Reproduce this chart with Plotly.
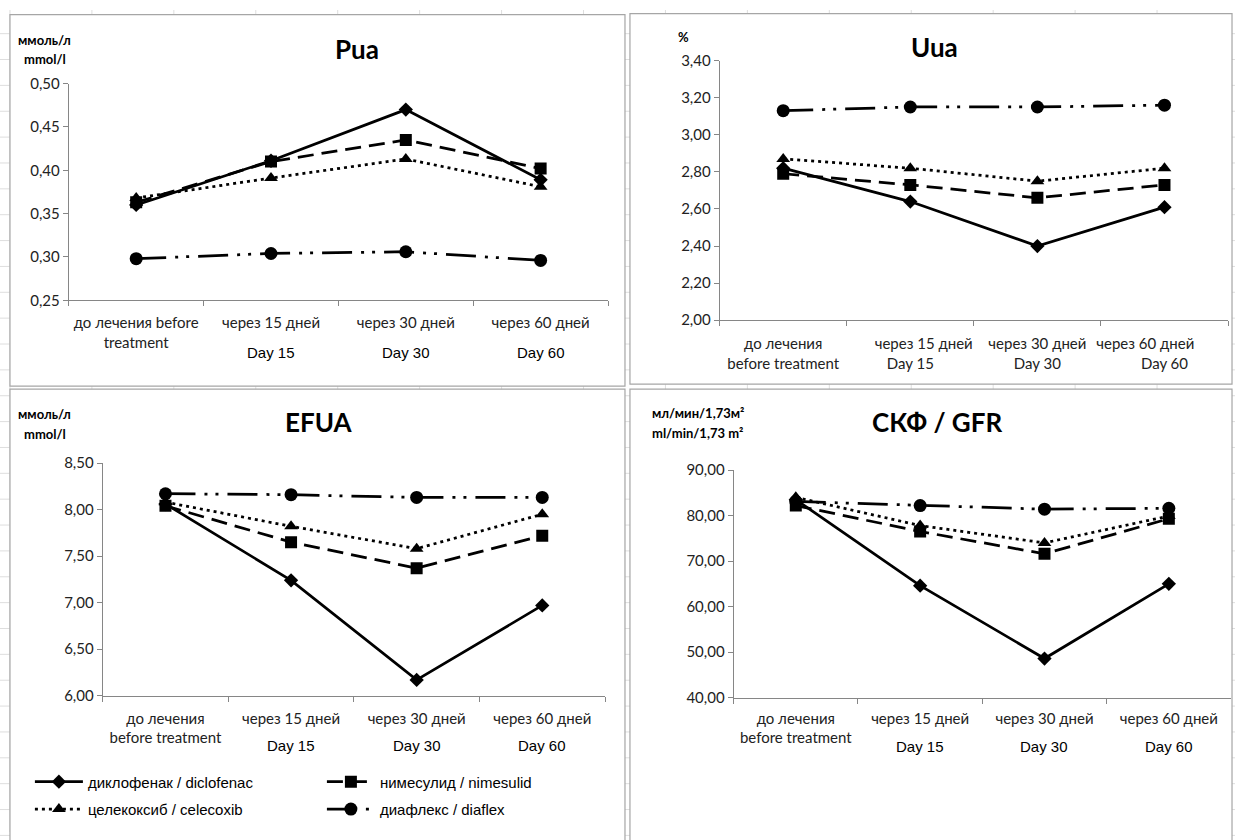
import plotly.graph_objects as go

W, H = 1239, 840

stages = ["before", "day15", "day30", "day60"]

series_names = ["диклофенак / diclofenac", "нимесулид / nimesulid",
                "целекоксиб / celecoxib", "диафлекс / diaflex"]

# Pua, mmol/l
pua_diclofenac = [0.360, 0.411, 0.470, 0.389]
pua_nimesulid = [0.363, 0.410, 0.435, 0.402]
pua_celecoxib = [0.368, 0.391, 0.413, 0.381]
pua_diaflex = [0.298, 0.304, 0.306, 0.296]

# Uua, %
uua_diclofenac = [2.82, 2.64, 2.40, 2.61]
uua_nimesulid = [2.79, 2.73, 2.66, 2.73]
uua_celecoxib = [2.87, 2.82, 2.75, 2.82]
uua_diaflex = [3.13, 3.15, 3.15, 3.16]

# EFUA, mmol/l
efua_diclofenac = [8.06, 7.24, 6.17, 6.97]
efua_nimesulid = [8.04, 7.65, 7.37, 7.72]
efua_celecoxib = [8.08, 7.82, 7.58, 7.95]
efua_diaflex = [8.17, 8.16, 8.13, 8.13]

# GFR, ml/min/1.73 m2
gfr_diclofenac = [83.5, 64.6, 48.6, 65.0]
gfr_nimesulid = [82.2, 76.5, 71.6, 79.3]
gfr_celecoxib = [84.0, 77.8, 74.0, 79.9]
gfr_diaflex = [83.1, 82.2, 81.4, 81.6]

NB = "\u00a0"
pua_ticks = ["до лечения before<br>treatment", "через 15 дней", "через 30 дней", "через 60 дней"]
uua_ticks = ["до лечения<br>before treatment", NB * 7 + "через 15 дней<br>Day 15",
             "через 30 дней<br>Day 30", "через 60 дней" + NB * 10 + "<br>Day 60"]
efua_ticks = ["до лечения<br>before treatment", "через 15 дней", "через 30 дней", "через 60 дней"]
gfr_ticks = ["до лечения<br>before treatment", "через 15 дней", "через 30 дней", "через 60 дней"]
day_labels = ["Day 15", "Day 30", "Day 60"]

CAL = "Lato, 'Open Sans', sans-serif"
ARI = "'Liberation Sans', Arial, sans-serif"
AXC = "#868686"


def Y(y):
    # screen row -> layout pixel (compensates the vertical fit of the capture)
    return (y - 9.3) / 0.98


styles = [
    dict(dash="solid", symbol="diamond", size=11),
    dict(dash="16px,8px", symbol="square", size=12),
    dict(dash="3px,4px", symbol="triangle-up", size=12),
    dict(dash="30px,9px,3px,8px,3px,9px", symbol="circle", size=13),
]

panels = [
    dict(ax="1", data=[pua_diclofenac, pua_nimesulid, pua_celecoxib, pua_diaflex],
         x0=69, x1=610, ytop=83, ybot=300, yr=[0.25, 0.50], dt=0.05, ticks=pua_ticks, so=9),
    dict(ax="2", data=[uua_diclofenac, uua_nimesulid, uua_celecoxib, uua_diaflex],
         x0=722, x1=1232, ytop=60, ybot=320, yr=[2.0, 3.4], dt=0.2, ticks=uua_ticks, so=10),
    dict(ax="3", data=[efua_diclofenac, efua_nimesulid, efua_celecoxib, efua_diaflex],
         x0=103, x1=607, ytop=463, ybot=696, yr=[6.0, 8.5], dt=0.5, ticks=efua_ticks, so=9),
    dict(ax="4", data=[gfr_diclofenac, gfr_nimesulid, gfr_celecoxib, gfr_diaflex],
         x0=736, x1=1235, ytop=470, ybot=698, yr=[40, 90], dt=10, ticks=gfr_ticks, so=7),
]

fig = go.Figure()
layout = {}
for p in panels:
    a = p["ax"]
    xa = "x" if a == "1" else "x" + a
    ya = "y" if a == "1" else "y" + a
    for i, (vals, st) in enumerate(zip(p["data"], styles)):
        fig.add_trace(go.Scatter(
            x=stages, y=vals, xaxis=xa, yaxis=ya, mode="lines+markers",
            name=series_names[i],
            line=dict(color="black", width=2.75, dash=st["dash"]),
            marker=dict(symbol=st["symbol"], size=st["size"], color="black"),
            showlegend=(a == "3"),
            legend=("legend" if i < 2 else "legend2"),
        ))
    xkey = "xaxis" if a == "1" else "xaxis" + a
    ykey = "yaxis" if a == "1" else "yaxis" + a
    layout[xkey] = dict(
        domain=[p["x0"] / W, p["x1"] / W], anchor=ya, type="category",
        categoryorder="array", categoryarray=stages, range=[-0.5, 3.5],
        tickmode="array", tickvals=stages, ticktext=p["ticks"], tickangle=0,
        tickson="boundaries", ticks="outside", ticklen=5, tickcolor=AXC,
        ticklabelstandoff=p["so"],
        showline=True, linecolor=AXC, linewidth=1, showgrid=False, zeroline=False,
        tickfont=dict(family=CAL, size=15, color="#222"), fixedrange=True,
    )
    layout[ykey] = dict(
        domain=[1 - Y(p["ybot"]) / H, 1 - Y(p["ytop"]) / H], anchor=xa,
        range=p["yr"], dtick=p["dt"], tick0=p["yr"][0], tickformat=".2f",
        ticks="outside", ticklen=5, tickcolor=AXC,
        showline=True, linecolor=AXC, linewidth=1, showgrid=False, zeroline=False,
        tickfont=dict(family=CAL, size=15, color="#222"), fixedrange=True,
    )

annotations = []


def ann(text, x, y, size, bold=False, family=CAL, xref="paper", xanchor="center"):
    annotations.append(dict(
        text=("<b>%s</b>" % text) if bold else text, x=x if xref != "paper" else x / W,
        y=1 - Y(y) / H, xref=xref, yref="paper", showarrow=False,
        xanchor=xanchor, yanchor="middle", font=dict(family=family, size=size, color="black")))


# titles
ann("Pua", 358, 48, 26, bold=True)
ann("Uua", 938, 46, 26, bold=True)
ann("EFUA", 320, 422, 26, bold=True)
ann("СКФ / GFR", 940, 422, 26, bold=True)
# units
ann("ммоль/л", 45, 39, 13, bold=True)
ann("mmol/l", 45, 58, 13, bold=True)
ann("%", 686, 36, 13, bold=True)
ann("ммоль/л", 45, 414, 13, bold=True)
ann("mmol/l", 45, 434, 13, bold=True)
ann("мл/мин/1,73м²", 700, 413, 13, bold=True)
ann("ml/min/1,73 m²", 700, 433, 13, bold=True)

# Day labels under categories
for xa, yy in [("x", 352), ("x3", 746), ("x4", 747)]:
    for st, lab in zip(stages[1:], day_labels):
        ann(lab, st, yy, 15, family=ARI, xref=xa)

shapes = []
# faint spreadsheet cell grid behind the chart frames
GRID = dict(color="#DEDEDE", width=1)
cx = 10.0
while cx < W:
    shapes.append(dict(type="line", xref="paper", yref="paper", x0=cx / W, x1=cx / W,
                       y0=0, y1=1, line=GRID, layer="below"))
    cx += 82.2
ry = 33.0
while ry < H:
    shapes.append(dict(type="line", xref="paper", yref="paper", x0=0, x1=1,
                       y0=1 - Y(ry) / H, y1=1 - Y(ry) / H, line=GRID, layer="below"))
    ry += 25.9

FR = dict(color="#A6A6A6", width=1.2)


def box(x0, y0, x1, y1):
    shapes.append(dict(type="rect", xref="paper", yref="paper",
                       x0=x0 / W, x1=x1 / W, y0=1 - Y(y1) / H, y1=1 - Y(y0) / H,
                       line=FR, fillcolor="white", layer="below"))


box(10, 14, 627, 386)
box(632, 13, 1236, 384)
box(10, 389, 627, 860)
box(632, 389, 1236, 860)

layout.update(dict(
    width=W, height=H, margin=dict(l=0, r=0, t=0, b=0),
    paper_bgcolor="white", plot_bgcolor="rgba(0,0,0,0)",
    separators=", ", annotations=annotations, shapes=shapes,
    legend=dict(orientation="h", x=30 / W, y=1 - 772 / H, xanchor="left", yanchor="top",
                entrywidth=229, entrywidthmode="pixels", itemwidth=48,
                font=dict(family=ARI, size=15, color="black"), bgcolor="rgba(0,0,0,0)"),
    legend2=dict(orientation="h", x=30 / W, y=1 - 800 / H, xanchor="left", yanchor="top",
                 entrywidth=229, entrywidthmode="pixels", itemwidth=48,
                 font=dict(family=ARI, size=15, color="black"), bgcolor="rgba(0,0,0,0)"),
))
fig.update_layout(**layout)
fig.write_html("out.html")
